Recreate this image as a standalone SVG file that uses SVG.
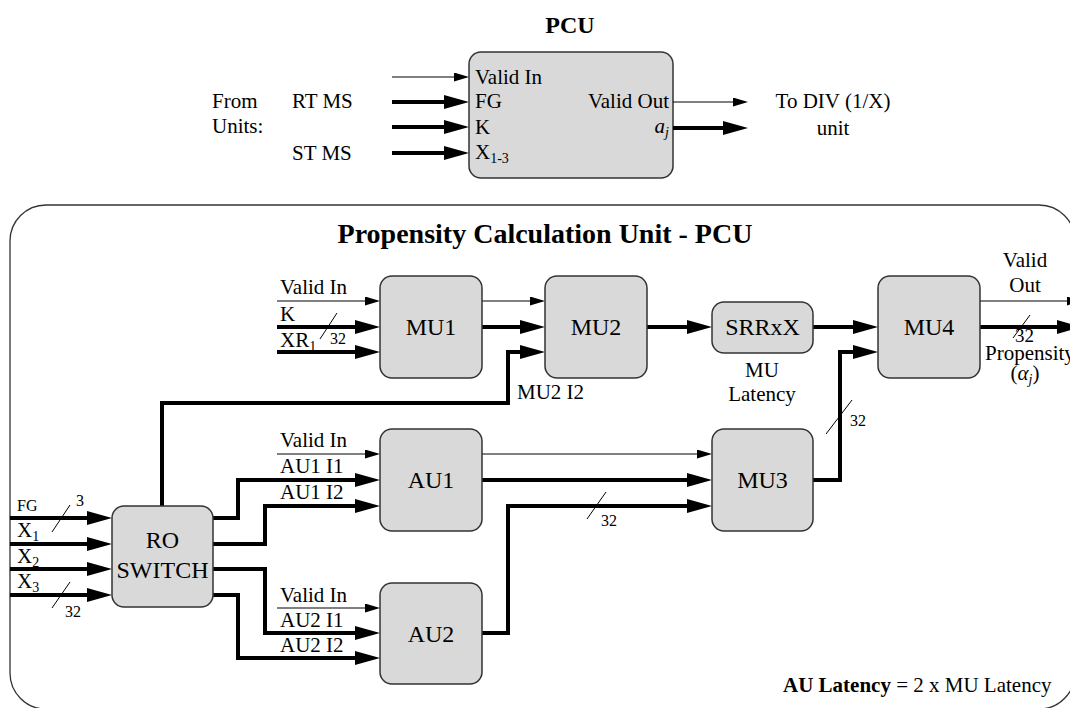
<svg xmlns="http://www.w3.org/2000/svg" width="1070" height="708" viewBox="0 0 1070 708">
  <defs>
    <marker id="arrowThick" markerUnits="userSpaceOnUse" markerWidth="26" markerHeight="16" refX="15" refY="7" orient="auto">
      <path d="M0,0 L25,7 L0,14 z" fill="#000"/>
    </marker>
    <marker id="arrowThin" markerUnits="userSpaceOnUse" markerWidth="16" markerHeight="10" refX="12" refY="4.5" orient="auto">
      <path d="M0,0 L15,4.5 L0,9 z" fill="#000"/>
    </marker>
    <style>
      text { font-family: "Liberation Serif", "Times New Roman", serif; fill: #000; }
      .lbl { font-size: 21px; }
      .small { font-size: 16px; }
      .sub { font-size: 14px; }
      .title { font-size: 28px; font-weight: bold; }
      .title2 { font-size: 24px; font-weight: bold; }
      .box { fill: #d9d9d9; stroke: #333; stroke-width: 1.5; }
      .unit { font-size: 24px; text-anchor: middle; }
      .thick { fill: none; stroke: #000; stroke-width: 4; stroke-linejoin: miter; marker-end: url(#arrowThick); }
      .thin { fill: none; stroke: #000; stroke-width: 1; marker-end: url(#arrowThin); }
      .slash { fill: none; stroke: #000; stroke-width: 1; }
      .frame { fill: none; stroke: #333; stroke-width: 1.3; }
    </style>
  </defs>

  <!-- ===== Black-box view of the PCU ===== -->
  <text class="title2" x="570" y="33" text-anchor="middle">PCU</text>
  <g id="pcu-top">
    <rect class="box" x="469" y="52" width="204" height="126" rx="12"/>
    <text class="lbl" x="475" y="84">Valid In</text>
    <text class="lbl" x="475" y="108">FG</text>
    <text class="lbl" x="475" y="134">K</text>
    <text class="lbl" x="475" y="159">X<tspan class="sub" dy="4">1-3</tspan></text>
    <text class="lbl" x="669" y="108" text-anchor="end">Valid Out</text>
    <text class="lbl" x="669" y="133" text-anchor="end"><tspan font-style="italic">a</tspan><tspan class="sub" font-style="italic" dy="4">j</tspan></text>
  </g>
  <g id="pcu-top-labels">
    <text class="lbl" x="212" y="108">From</text>
    <text class="lbl" x="212" y="133">Units:</text>
    <text class="lbl" x="292" y="108">RT MS</text>
    <text class="lbl" x="292" y="160">ST MS</text>
    <text class="lbl" x="833" y="108" text-anchor="middle">To DIV (1/X)</text>
    <text class="lbl" x="833" y="135" text-anchor="middle">unit</text>
  </g>
  <g id="pcu-top-connectors">
    <path class="thin" d="M392,77 H466"/>
    <path class="thick" d="M392,102 H459"/>
    <path class="thick" d="M392,127 H459"/>
    <path class="thick" d="M392,153 H459"/>
    <path class="thin" d="M673,102 H745"/>
    <path class="thick" d="M673,128 H738"/>
  </g>

  <!-- ===== Internal structure ===== -->
  <rect class="frame" x="10" y="205" width="1065" height="504" rx="36"/>
  <text class="title" x="545" y="243" text-anchor="middle">Propensity Calculation Unit - PCU</text>

  <!-- connectors -->
  <g id="connectors">
    <!-- MU1 inputs -->
    <path class="thin" d="M277,301 H377"/>
    <path class="thick" d="M277,327 H370"/>
    <path class="thick" d="M277,352 H370"/>
    <!-- MU1 to MU2 -->
    <path class="thin" d="M482,301 H542"/>
    <path class="thick" d="M482,327 H535"/>
    <!-- MU2 I2 from RO switch -->
    <path class="thick" d="M162,506 V403 H508 V352 H535"/>
    <!-- MU2 to SRRxX to MU4 -->
    <path class="thick" d="M647,327 H702"/>
    <path class="thick" d="M813,327 H868"/>
    <!-- MU3 to MU4 -->
    <path class="thick" d="M813,480 H840 V352 H868"/>
    <!-- MU4 outputs -->
    <path class="thin" d="M980,301 H1079"/>
    <path class="thick" d="M980,327 H1072"/>
    <!-- RO switch inputs -->
    <path class="thick" d="M10,518 H102"/>
    <path class="thick" d="M10,544 H102"/>
    <path class="thick" d="M10,569 H102"/>
    <path class="thick" d="M10,595 H102"/>
    <!-- AU1 inputs -->
    <path class="thin" d="M277,454 H377"/>
    <path class="thick" d="M213,518 H238 V480 H370"/>
    <path class="thick" d="M213,544 H265 V506 H370"/>
    <!-- AU2 inputs -->
    <path class="thin" d="M277,608 H377"/>
    <path class="thick" d="M213,569 H265 V633 H370"/>
    <path class="thick" d="M213,595 H238 V658 H370"/>
    <!-- AU1 / AU2 to MU3 -->
    <path class="thin" d="M482,454 H709"/>
    <path class="thick" d="M482,480 H702"/>
    <path class="thick" d="M482,633 H508 V506 H702"/>
    <!-- bus width marks -->
    <path class="slash" d="M320,339 L337,313"/>
    <path class="slash" d="M52,532 L70,505"/>
    <path class="slash" d="M52,608 L70,582"/>
    <path class="slash" d="M587,519 L606,492"/>
    <path class="slash" d="M826,434 L852,400"/>
    <path class="slash" d="M1013,338 L1030,315"/>
  </g>

  <!-- connector labels -->
  <g id="labels">
    <text class="lbl" x="280" y="294">Valid In</text>
    <text class="lbl" x="280" y="321">K</text>
    <text class="lbl" x="280" y="347">XR<tspan class="sub" dy="4">1</tspan></text>
    <text class="small" x="330" y="344">32</text>

    <text class="lbl" x="517" y="399">MU2 I2</text>
    <text class="lbl" x="762" y="377" text-anchor="middle">MU</text>
    <text class="lbl" x="762" y="401" text-anchor="middle">Latency</text>

    <text class="lbl" x="1025" y="267" text-anchor="middle">Valid</text>
    <text class="lbl" x="1025" y="292" text-anchor="middle">Out</text>
    <text x="1015" y="342" font-size="19">32</text>
    <text class="lbl" x="985" y="360">Propensity</text>
    <text class="lbl" x="1025" y="380" text-anchor="middle">(<tspan font-style="italic">α</tspan><tspan class="sub" font-style="italic" dy="4">j</tspan><tspan dy="-4">)</tspan></text>
    <text class="small" x="850" y="426">32</text>

    <text class="small" x="17" y="511">FG</text>
    <text class="small" x="76" y="506">3</text>
    <text class="lbl" x="17" y="537">X<tspan class="sub" dy="4">1</tspan></text>
    <text class="lbl" x="17" y="563">X<tspan class="sub" dy="4">2</tspan></text>
    <text class="lbl" x="17" y="588">X<tspan class="sub" dy="4">3</tspan></text>
    <text class="small" x="65" y="617">32</text>

    <text class="lbl" x="280" y="447">Valid In</text>
    <text class="lbl" x="280" y="473">AU1 I1</text>
    <text class="lbl" x="280" y="499">AU1 I2</text>
    <text class="lbl" x="280" y="602">Valid In</text>
    <text class="lbl" x="280" y="627">AU2 I1</text>
    <text class="lbl" x="280" y="652">AU2 I2</text>
    <text class="small" x="601" y="526">32</text>

    <text class="lbl" x="783" y="692"><tspan font-weight="bold">AU Latency</tspan> = 2 x MU Latency</text>
  </g>

  <!-- processing units -->
  <g id="mu1">
    <rect class="box" x="380" y="276" width="102" height="102" rx="12"/>
    <text class="unit" x="431" y="335">MU1</text>
  </g>
  <g id="mu2">
    <rect class="box" x="545" y="276" width="102" height="102" rx="12"/>
    <text class="unit" x="596" y="335">MU2</text>
  </g>
  <g id="srrxx">
    <rect class="box" x="712" y="302" width="101" height="51" rx="12"/>
    <text class="unit" x="762.5" y="335">SRRxX</text>
  </g>
  <g id="mu4">
    <rect class="box" x="878" y="276" width="102" height="102" rx="12"/>
    <text class="unit" x="929" y="335">MU4</text>
  </g>
  <g id="au1">
    <rect class="box" x="380" y="429" width="102" height="102" rx="12"/>
    <text class="unit" x="431" y="488">AU1</text>
  </g>
  <g id="mu3">
    <rect class="box" x="712" y="429" width="101" height="102" rx="12"/>
    <text class="unit" x="762.5" y="488">MU3</text>
  </g>
  <g id="au2">
    <rect class="box" x="380" y="583" width="102" height="101" rx="12"/>
    <text class="unit" x="431" y="642">AU2</text>
  </g>
  <g id="ro-switch">
    <rect class="box" x="112" y="506" width="101" height="101" rx="12"/>
    <text class="unit" x="162.5" y="548">RO</text>
    <text class="unit" x="162.5" y="578">SWITCH</text>
  </g>
</svg>
